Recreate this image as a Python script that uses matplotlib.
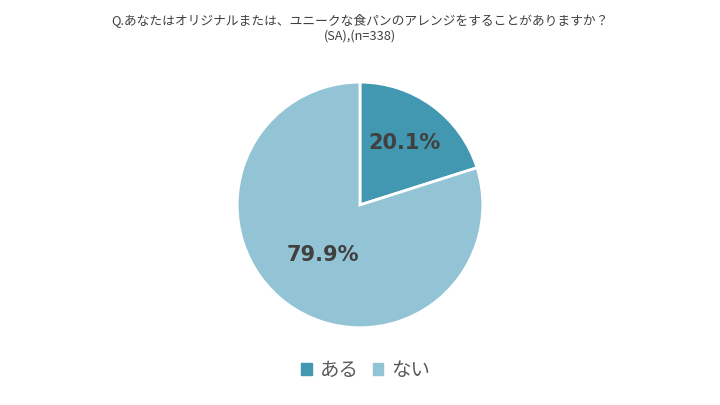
import numpy as np
import matplotlib
matplotlib.use("Agg")
import matplotlib.pyplot as plt

plt.rcParams['font.family'] = ['Noto Sans CJK JP', 'DejaVu Sans']

# data
categories = ["ある", "ない"]
shares = [20.1, 79.9]
colors = ["#4198B0", "#93C4D5"]
label_dist = [0.62, 0.51]
title = "Q.あなたはオリジナルまたは、ユニークな食パンのアレンジをすることがありますか？\n(SA),(n=338)"

fig = plt.figure(figsize=(7.2, 4.05), dpi=100)
ax = fig.add_axes([0.5 - 0.168, 0.494 - 0.29875, 0.336, 0.5975])

wedges, _ = ax.pie(shares, colors=colors, startangle=90, counterclock=False,
                   wedgeprops=dict(edgecolor="white", linewidth=2))
ax.set_xlim(-0.985, 0.985)
ax.set_ylim(-0.985, 0.985)
ax.set_aspect("equal")

for w, v, d in zip(wedges, shares, label_dist):
    ang = np.deg2rad((w.theta1 + w.theta2) / 2)
    ax.text(d * np.cos(ang), d * np.sin(ang), f"{v:.1f}%", ha="center", va="center",
            fontsize=15, fontweight="bold", color="#404040", family="DejaVu Sans")

fig.text(0.5, 0.968, title, ha="center", va="top", fontsize=9.2, color="#404040",
         linespacing=1.3)

handles = [plt.Rectangle((0, 0), 1, 1, color=c) for c in colors]
fig.legend(handles, categories, loc="center", bbox_to_anchor=(0.508, 0.085), ncol=2,
           frameon=False, fontsize=14, handlelength=0.55, handleheight=0.55,
           handletextpad=0.4, columnspacing=0.7, labelcolor="#595959")

fig.savefig("out.png", dpi=100)
